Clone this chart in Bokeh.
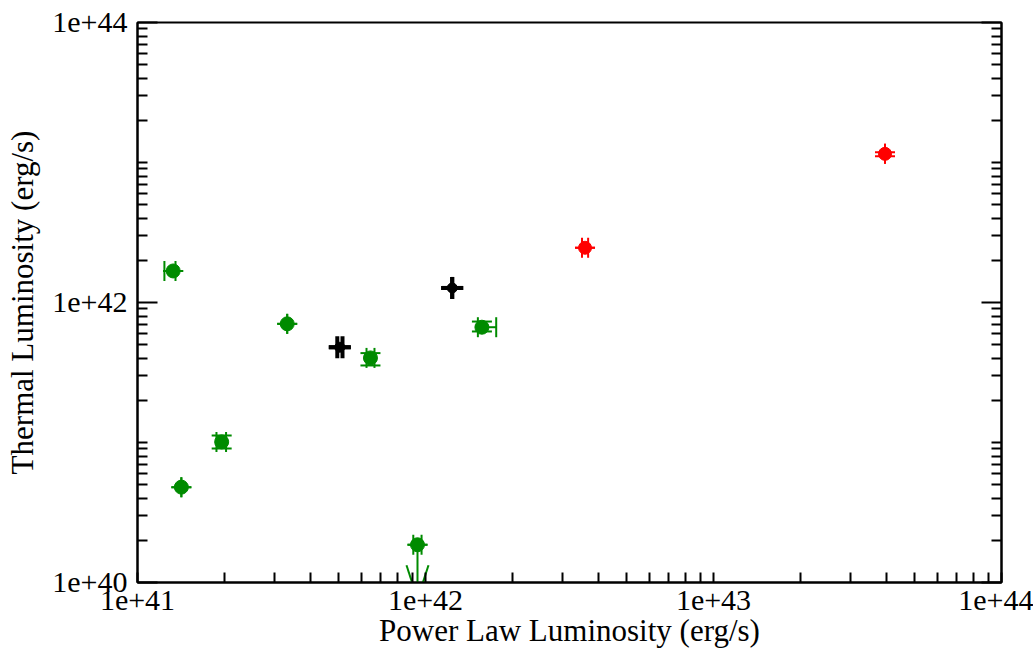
from bokeh.plotting import figure
from bokeh.models import (ColumnDataSource, Whisker, TeeHead, FixedTicker,
                          LogAxis, CustomJSTickFormatter)
from bokeh.embed import file_html
from bokeh.resources import INLINE

# ---------------- data ----------------
green_x    = [1.33e41, 1.42e41, 1.96e41, 3.31e41, 6.44e41, 9.38e41, 1.57e42]
green_y    = [1.68e42, 4.80e40, 1.01e41, 7.04e41, 4.02e41, 1.86e40, 6.66e41]
green_x_lo = [1.24e41, 1.42e41, 1.88e41, 3.31e41, 6.24e41, 9.07e41, 1.52e42]
green_x_hi = [1.355e41, 1.42e41, 2.03e41, 3.31e41, 6.65e41, 9.69e41, 1.76e42]
green_y_lo = [1.68e42, 4.80e40, 9.06e40, 7.04e41, 3.55e41, 1.86e40, 6.21e41]
green_y_hi = [1.68e42, 4.80e40, 1.12e41, 7.04e41, 4.35e41, 1.86e40, 7.31e41]
green_upper_limit = [False, False, False, False, False, True, False]
green_limit_end = 7.6e39

black_x    = [5.04e41, 1.238e42]
black_y    = [4.79e41, 1.27e42]
black_x_lo = [4.94e41, 1.238e42]
black_x_hi = [5.15e41, 1.238e42]
black_y_lo = [4.79e41, 1.27e42]
black_y_hi = [4.79e41, 1.27e42]

red_x    = [3.58e42, 3.94e43]
red_y    = [2.46e42, 1.153e43]
red_x_lo = [3.495e42, 3.94e43]
red_x_hi = [3.67e42, 3.94e43]
red_y_lo = [2.46e42, 1.109e43]
red_y_hi = [2.46e42, 1.185e43]

x_major = [1e41, 1e42, 1e43, 1e44]
y_major = [1e40, 1e42, 1e44]

x_title = "Power Law Luminosity (erg/s)"
y_title = "Thermal Luminosity (erg/s)"

FONT = "Liberation Serif"
GREEN = "#008b00"

# arrow-head shape factors (log-space half width / length of the open "V")
HEAD_DX = 10 ** (11 / 288)
HEAD_DY = 10 ** (34 / 140)

# ---------------- figure ----------------
p = figure(width=1033, height=653, x_axis_type="log", y_axis_type="log",
           x_range=(1e41, 1e44), y_range=(1e40, 1e44),
           output_backend="svg", toolbar_location=None,
           min_border_left=137, min_border_right=32,
           min_border_top=22, min_border_bottom=71,
           background_fill_color="white", border_fill_color="white")
p.grid.visible = False
p.outline_line_color = "black"
p.outline_line_width = 2

x_minor = [k * 10.0 ** d for d in range(41, 44) for k in range(2, 10)]
y_minor = [k * 10.0 ** d for d in range(40, 44) for k in range(1, 10) if not (k == 1 and d % 2 == 0)]
xt = FixedTicker(ticks=x_major, minor_ticks=x_minor)
yt = FixedTicker(ticks=y_major, minor_ticks=y_minor)
fmt = CustomJSTickFormatter(code="return tick.toExponential(0);")

xa = p.xaxis[0]
xa.ticker = xt
xa.formatter = fmt
xa.axis_label = x_title
xa.major_tick_in = 10
xa.major_tick_out = 0
xa.minor_tick_in = 10
xa.minor_tick_out = 0
xa.major_tick_line_width = 2
xa.minor_tick_line_width = 2
xa.axis_line_width = 2
xa.major_label_text_font = FONT
xa.major_label_text_font_size = "30px"
xa.major_label_text_color = "black"
xa.major_label_standoff = 8
xa.axis_label_text_font = FONT
xa.axis_label_text_font_size = "31px"
xa.axis_label_text_font_style = "normal"
xa.axis_label_text_color = "black"
xa.axis_label_standoff = 0

ya = p.yaxis[0]
ya.ticker = yt
ya.formatter = fmt
ya.axis_label = y_title
ya.major_tick_in = 20
ya.major_tick_out = 0
ya.minor_tick_in = 10
ya.minor_tick_out = 0
ya.major_tick_line_width = 2
ya.minor_tick_line_width = 2
ya.axis_line_width = 2
ya.major_label_text_font = FONT
ya.major_label_text_font_size = "30px"
ya.major_label_text_color = "black"
ya.major_label_standoff = 10
ya.axis_label_text_font = FONT
ya.axis_label_text_font_size = "31px"
ya.axis_label_text_font_style = "normal"
ya.axis_label_text_color = "black"
ya.axis_label_standoff = 9

ra = LogAxis(ticker=yt, formatter=CustomJSTickFormatter(code="return '';"),
             major_tick_in=20, major_tick_out=0, minor_tick_in=10, minor_tick_out=0,
             major_tick_line_width=2, minor_tick_line_width=2, axis_line_width=2,
             major_label_standoff=0)
p.add_layout(ra, "right")


def add_series(xs, ys, xlo, xhi, ylo, yhi, color, size, lw, cap, limits=None, limit_end=None):
    n = len(xs)
    if limits is None:
        limits = [False] * n
    src = ColumnDataSource(dict(x=xs, y=ys, xlo=xlo, xhi=xhi, yhi=yhi))
    p.add_layout(Whisker(source=src, base="y", lower="xlo", upper="xhi", dimension="width",
                         line_color=color, line_width=lw,
                         upper_head=TeeHead(size=cap, line_color=color, line_width=lw),
                         lower_head=TeeHead(size=cap, line_color=color, line_width=lw)))
    idx = [i for i in range(n) if not limits[i]]
    ysrc = ColumnDataSource(dict(x=[xs[i] for i in idx], ylo=[ylo[i] for i in idx],
                                 yhi=[yhi[i] for i in idx]))
    p.add_layout(Whisker(source=ysrc, base="x", lower="ylo", upper="yhi", dimension="height",
                         line_color=color, line_width=lw,
                         upper_head=TeeHead(size=cap, line_color=color, line_width=lw),
                         lower_head=TeeHead(size=cap, line_color=color, line_width=lw)))
    lidx = [i for i in range(n) if limits[i]]
    if lidx:
        lx = [xs[i] for i in lidx]
        ly = [yhi[i] for i in lidx]
        # upper cap at the measured value
        csrc = ColumnDataSource(dict(x=lx, y=ly))
        p.add_layout(Whisker(source=csrc, base="x", lower="y", upper="y", dimension="height",
                             line_color=color, line_width=lw,
                             upper_head=TeeHead(size=cap, line_color=color, line_width=lw),
                             lower_head=TeeHead(size=cap, line_color=color, line_width=lw)))
        # stem + open arrow head pointing down (drawn as glyphs so the frame clips it)
        p.segment(x0=lx, y0=ly, x1=lx, y1=[limit_end] * len(lx), line_color=color, line_width=lw)
        p.segment(x0=lx, y0=[limit_end] * len(lx), x1=[v / HEAD_DX for v in lx],
                  y1=[limit_end * HEAD_DY] * len(lx), line_color=color, line_width=lw)
        p.segment(x0=lx, y0=[limit_end] * len(lx), x1=[v * HEAD_DX for v in lx],
                  y1=[limit_end * HEAD_DY] * len(lx), line_color=color, line_width=lw)
    p.scatter("x", "y", source=src, size=size, fill_color=color, line_color=color, marker="circle")


add_series(green_x, green_y, green_x_lo, green_x_hi, green_y_lo, green_y_hi,
           GREEN, 14, 2, 20, green_upper_limit, green_limit_end)
add_series(black_x, black_y, black_x_lo, black_x_hi, black_y_lo, black_y_hi,
           "black", 10, 4, 22)
add_series(red_x, red_y, red_x_lo, red_x_hi, red_y_lo, red_y_hi,
           "#ff0000", 13, 2, 20)

open("out.html", "w").write(file_html(p, INLINE))
